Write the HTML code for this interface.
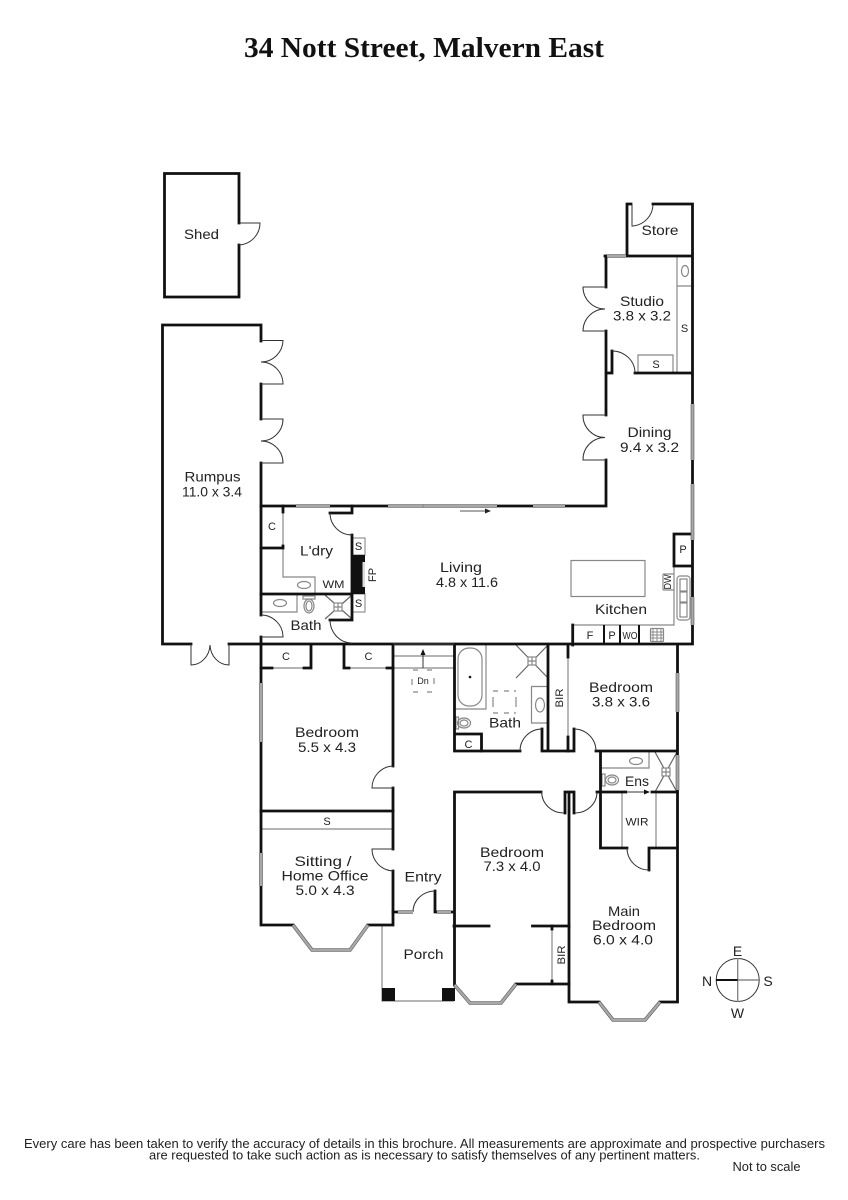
<!DOCTYPE html>
<html><head><meta charset="utf-8"><style>
html,body{margin:0;padding:0;background:#fff}
svg{display:block}
.w{fill:none;stroke:#111;stroke-width:2.8;stroke-linecap:square;stroke-linejoin:miter}
.t{fill:none;stroke:#333;stroke-width:1}
.g{fill:none;stroke:#888;stroke-width:1.2}
.wo{fill:none;stroke:#555;stroke-width:3.6}
.wi{fill:none;stroke:#a8a8a8;stroke-width:2.4}
.f{fill:#fff;stroke:#888;stroke-width:1.1}
text{font-family:"Liberation Sans",sans-serif;font-size:14px;fill:#222;text-anchor:middle}
.s{font-size:11px}
</style></head><body>
<svg width="848" height="1200" viewBox="0 0 848 1200" xmlns="http://www.w3.org/2000/svg">
<rect width="848" height="1200" fill="#fff"/>
<text x="424" y="57" style="font-family:'Liberation Serif',serif;font-weight:bold;font-size:29px;fill:#111" textLength="360" lengthAdjust="spacingAndGlyphs">34 Nott Street, Malvern East</text>

<!-- thin fixtures -->
<g class="g">
<path d="M677 256V373M677 286H692M638 373V355H673V373"/>
<path d="M283 512V577H315V594"/>
<path d="M261 612H297V594"/>
<path d="M261 668H311M344 668H393M393 656H454M393 668H454"/>
<path d="M261 829H393"/>
<path d="M382 925V1001H454"/>
<path d="M568 645V751"/>
<path d="M552 926V984"/>
<path d="M622 792V848M656 792V848"/>
<rect x="571" y="560.5" width="74" height="36"/>
<path d="M674 566V625H573"/>
<path d="M455 709H486V645"/>
<rect x="458" y="648" width="24" height="58" rx="11"/>
<path d="M548 686.500H531.500V723H548"/>
<ellipse cx="540" cy="705" rx="4.500" ry="7"/>
<path d="M600 768H649V752"/>
<ellipse cx="636" cy="761" rx="6.500" ry="3.500"/>
<ellipse cx="304" cy="585" rx="6.500" ry="3.500"/>
<ellipse cx="280" cy="603" rx="6.500" ry="3.500"/>
<ellipse cx="685" cy="271" rx="3.500" ry="5.500"/>
<path d="M325 595L352 619M352 595L325 619M516 645L548 678M548 645L516 678M655 752L677 792M677 752L655 792" stroke="#666"/>
<rect x="334" y="603" width="8" height="8" fill="#fff"/>
<rect x="528" y="657" width="8" height="8" fill="#fff"/>
<rect x="662" y="768" width="8" height="8" fill="#fff"/>
<path d="M338 603V611M334 607H342M532 657V665M528 661H536M666 768V776M662 772H670"/>
<ellipse cx="309" cy="606" rx="5" ry="7"/><ellipse cx="309" cy="606" rx="3" ry="5"/><rect x="303" y="596" width="12" height="3"/>
<ellipse cx="464" cy="723" rx="6.500" ry="5"/><ellipse cx="464" cy="723" rx="4" ry="3"/><rect x="456" y="717" width="2.500" height="12"/>
<ellipse cx="612" cy="780" rx="6.500" ry="5"/><ellipse cx="612" cy="780" rx="4" ry="3"/><rect x="602" y="774" width="3" height="12"/>
<path d="M493 691H498M504 691H509M514 691H516M493 713H498M504 713H509M514 713H516M493 697V707M516 697V707"/>
<path d="M413 670H418M427 670H432M413 692H418M427 692H432M412 679V685M434 678V684"/>
<path d="M663 574H674M663 590H674M663 574V590"/>
<rect x="677" y="576" width="13" height="44" rx="3"/>
<rect x="680" y="579" width="7" height="12"/><rect x="680" y="592" width="7" height="10"/><rect x="680" y="603" width="7" height="14"/>
<rect x="650.500" y="628.500" width="13" height="13" rx="1"/>
<path d="M650 635H664M657 628V642M653 629V641M661 629V641M651 632H663M651 638H663" stroke-width="1"/>
<circle cx="470" cy="677" r="1.300" fill="#111" stroke="none"/>
</g>

<!-- S boxes and fireplace -->
<rect class="f" x="352" y="538" width="13" height="17"/>
<rect class="f" x="352" y="594" width="13" height="18"/>
<rect x="352" y="555" width="13" height="39" fill="#111"/>
<rect x="362.500" y="562" width="2.500" height="25" fill="#ddd"/>
<rect x="382" y="988" width="13" height="13" fill="#111"/>
<rect x="442" y="988" width="13" height="13" fill="#111"/>

<!-- walls -->
<g class="w">
<path d="M239 223V173.500H164.500V297H239V245"/>
<path d="M261 341V325H162.500V644H191M229 644H692.500V204H653M631 204H627V256M605 256H692"/>
<path d="M261 384V419M261 463V615M261 637V925H293M368 925H393V871M393 849V788M393 766V645"/>
<path d="M261 506H606V460M606 415V331M606 287V256M612 373H606M612 373V351"/>
<path d="M635 373H692"/>
<path d="M261 548H283V546M283 506V512M330 513H352V506M352 535V620H330M261 594H352"/>
<path d="M311 645V668H304M261 668H272M344 645V668H349M393 668H387"/>
<path d="M261 811H393"/>
<path d="M393 912H398M435 891V912H437M451 912H454.500M454.500 645V751H520M542 729V751H548M548 645V751M548 751H568M574 729V751H568M596 751H677M677.500 645V1002H660M599 1002H569V792M574 813V792H565V813M454.500 792H541M454.500 792V985"/>
<path d="M454 926H489M532.500 926H569M516 984H569M600.500 752V848H627M649 870V848H677M597 792H626M652 792H677"/>
<path d="M481.500 734V751M455 734H481.500"/>
<path d="M674 534H692M674 566H692M674 534V566M572.700 625V645"/>
<path d="M568 645V657M568 737V751M552 926V929M552 981V984"/>
</g>
<path d="M604 645V625M620 645V625M639 645V625" stroke="#111" stroke-width="2" fill="none"/>
<path d="M393 644H454" stroke="#333" stroke-width="1.500" fill="none"/>

<!-- doors -->
<g class="t">
<path d="M239 223H260A22 22 0 0 1 239 245"/>
<path d="M261 340.500H283A22 22 0 0 1 261 362A22 22 0 0 1 283 384H261"/>
<path d="M261 419H283A22 22 0 0 1 261 441A22 22 0 0 1 283 463H261"/>
<path d="M191 644V665A19 21 0 0 0 210 645A19 21 0 0 0 229 665V644"/>
<path d="M606 287H583A22 22 0 0 0 605 309A22 22 0 0 0 583 331H606"/>
<path d="M606 415H583A22 22 0 0 0 605 437.500A22 22 0 0 0 583 460H606"/>
<path d="M632 204V226A22 22 0 0 0 653 205"/>
<path d="M612 351A23 22 0 0 1 635 373"/>
<path d="M330 513A22 22 0 0 0 352 535"/>
<path d="M261 615A22 22 0 0 1 283 637H261"/>
<path d="M330 620A22 23 0 0 0 352 643"/>
<path d="M393 766A22 22 0 0 0 372 788H393"/>
<path d="M393 871A22 22 0 0 1 372 849H393"/>
<path d="M413 912A22 21 0 0 1 435 891"/>
<path d="M520 751A22 22 0 0 1 542 729"/>
<path d="M574 729A22 22 0 0 1 596 751"/>
<path d="M541.700 792A22 21 0 0 0 564 813"/>
<path d="M575 813A22 21 0 0 0 597 792"/>
<path d="M627 848A22 22 0 0 0 649 870"/>
</g>

<!-- windows -->
<g>
<path class="wo" d="M296 506H330M388 506H497M533 506H565M607 256H626M692.500 404V460M692.500 484V540M692.500 597V625M261 683V742M261 853V886M398 912H413M437 912H451M677.500 673V712M677.500 755V790M293 925L312 950H350L368 925M454.500 985L470 1003H501L516 984M599 1002L613 1020H645L660 1002"/>
<path class="wi" d="M296 506H330M388 506H497M533 506H565M607 256H626M692.500 404V460M692.500 484V540M692.500 597V625M261 683V742M261 853V886M398 912H413M437 912H451M677.500 673V712M677.500 755V790M293 925L312 950H350L368 925M454.500 985L470 1003H501L516 984M599 1002L613 1020H645L660 1002"/>
<path d="M423 504.500V507.500" stroke="#777" stroke-width="0.800" fill="none"/>
<path d="M460 511H485" stroke="#555" stroke-width="1" fill="none"/><path d="M485 508.500L491 511L485 513.500Z" fill="#222"/>
<path d="M628 792H645" stroke="#999" stroke-width="2" fill="none"/><path d="M644 789.500L650 792L644 794.500Z" fill="#111"/>
<path d="M423 668V654" stroke="#333" stroke-width="1" fill="none"/><path d="M420.500 655L423 649L425.500 655Z" fill="#111"/>
</g>

<!-- labels -->
<text x="201.500" y="239" textLength="35" lengthAdjust="spacingAndGlyphs">Shed</text>
<text x="660" y="235" textLength="37" lengthAdjust="spacingAndGlyphs">Store</text>
<text x="642" y="306" textLength="44" lengthAdjust="spacingAndGlyphs">Studio</text>
<text x="642" y="320.500" textLength="58" lengthAdjust="spacingAndGlyphs">3.8 x 3.2</text>
<text x="649.500" y="437" textLength="44" lengthAdjust="spacingAndGlyphs">Dining</text>
<text x="649.500" y="452" textLength="59" lengthAdjust="spacingAndGlyphs">9.4 x 3.2</text>
<text x="212.500" y="481.500" textLength="56" lengthAdjust="spacingAndGlyphs">Rumpus</text>
<text x="212" y="496.500" textLength="60" lengthAdjust="spacingAndGlyphs">11.0 x 3.4</text>
<text x="316.500" y="555.500" textLength="33" lengthAdjust="spacingAndGlyphs">L'dry</text>
<text x="333.500" y="588" class="s" textLength="22" lengthAdjust="spacingAndGlyphs">WM</text>
<text x="306" y="630" textLength="31" lengthAdjust="spacingAndGlyphs">Bath</text>
<text x="461" y="572" textLength="42" lengthAdjust="spacingAndGlyphs">Living</text>
<text x="467" y="587" textLength="62" lengthAdjust="spacingAndGlyphs">4.8 x 11.6</text>
<text x="621" y="614" textLength="52" lengthAdjust="spacingAndGlyphs">Kitchen</text>
<text x="621" y="692" textLength="64" lengthAdjust="spacingAndGlyphs">Bedroom</text>
<text x="621" y="706.500" textLength="58" lengthAdjust="spacingAndGlyphs">3.8 x 3.6</text>
<text x="505" y="727.500" textLength="32" lengthAdjust="spacingAndGlyphs">Bath</text>
<text x="637" y="786" textLength="24" lengthAdjust="spacingAndGlyphs">Ens</text>
<text x="637" y="825.500" class="s" textLength="23" lengthAdjust="spacingAndGlyphs">WIR</text>
<text x="327" y="737" textLength="64" lengthAdjust="spacingAndGlyphs">Bedroom</text>
<text x="327" y="752" textLength="58" lengthAdjust="spacingAndGlyphs">5.5 x 4.3</text>
<text x="323" y="866" textLength="57" lengthAdjust="spacingAndGlyphs">Sitting /</text>
<text x="325" y="880.500" textLength="87" lengthAdjust="spacingAndGlyphs">Home Office</text>
<text x="325" y="895" textLength="59" lengthAdjust="spacingAndGlyphs">5.0 x 4.3</text>
<text x="423" y="881.500" textLength="37" lengthAdjust="spacingAndGlyphs">Entry</text>
<text x="423.500" y="959" textLength="40" lengthAdjust="spacingAndGlyphs">Porch</text>
<text x="512" y="857" textLength="64" lengthAdjust="spacingAndGlyphs">Bedroom</text>
<text x="512" y="871" textLength="57" lengthAdjust="spacingAndGlyphs">7.3 x 4.0</text>
<text x="624" y="916" textLength="32" lengthAdjust="spacingAndGlyphs">Main</text>
<text x="624" y="930" textLength="64" lengthAdjust="spacingAndGlyphs">Bedroom</text>
<text x="623" y="944.500" textLength="60" lengthAdjust="spacingAndGlyphs">6.0 x 4.0</text>
<g class="s">
<text class="s" x="272" y="530">C</text>
<text class="s" x="286" y="660">C</text>
<text class="s" x="368.500" y="660">C</text>
<text class="s" x="468.500" y="748">C</text>
<text class="s" x="358.500" y="550">S</text>
<text class="s" x="358.500" y="607">S</text>
<text class="s" x="684.500" y="332">S</text>
<text class="s" x="656" y="368">S</text>
<text class="s" x="327" y="825">S</text>
<text class="s" x="683" y="553">P</text>
<text class="s" x="590" y="639">F</text>
<text class="s" x="612" y="639">P</text>
<text class="s" x="630" y="639" style="font-size:10px" textLength="15" lengthAdjust="spacingAndGlyphs">WO</text>
<text class="s" x="423" y="684" style="font-size:9px">Dn</text>
<text class="s" transform="translate(376,575) rotate(-90)" textLength="14" lengthAdjust="spacingAndGlyphs">FP</text>
<text class="s" transform="translate(671,582) rotate(-90)" style="font-size:10px" textLength="15" lengthAdjust="spacingAndGlyphs">DW</text>
<text class="s" transform="translate(563,698) rotate(-90)" textLength="19" lengthAdjust="spacingAndGlyphs">BIR</text>
<text class="s" transform="translate(565,955) rotate(-90)" textLength="19" lengthAdjust="spacingAndGlyphs">BIR</text>
</g>

<!-- compass -->
<circle cx="737.700" cy="980" r="21.500" fill="none" stroke="#333" stroke-width="1"/>
<path d="M737.700 958V1002M737.700 980H759" stroke="#888" stroke-width="1.400" fill="none"/>
<path d="M716 980H737.700" stroke="#111" stroke-width="2" fill="none"/>
<text x="737.500" y="956">E</text>
<text x="737.500" y="1018">W</text>
<text x="707" y="986">N</text>
<text x="768" y="986">S</text>

<!-- footer -->
<text x="424.500" y="1148" style="font-size:12.500px" textLength="801" lengthAdjust="spacingAndGlyphs">Every care has been taken to verify the accuracy of details in this brochure.  All measurements are approximate and prospective purchasers</text>
<text x="424.500" y="1159.500" style="font-size:12.500px" textLength="551" lengthAdjust="spacingAndGlyphs">are requested to take such action as is necessary to satisfy themselves of any pertinent matters.</text>
<text x="766.500" y="1171" style="font-size:12.500px" textLength="68" lengthAdjust="spacingAndGlyphs">Not to scale</text>
</svg>
</body></html>
